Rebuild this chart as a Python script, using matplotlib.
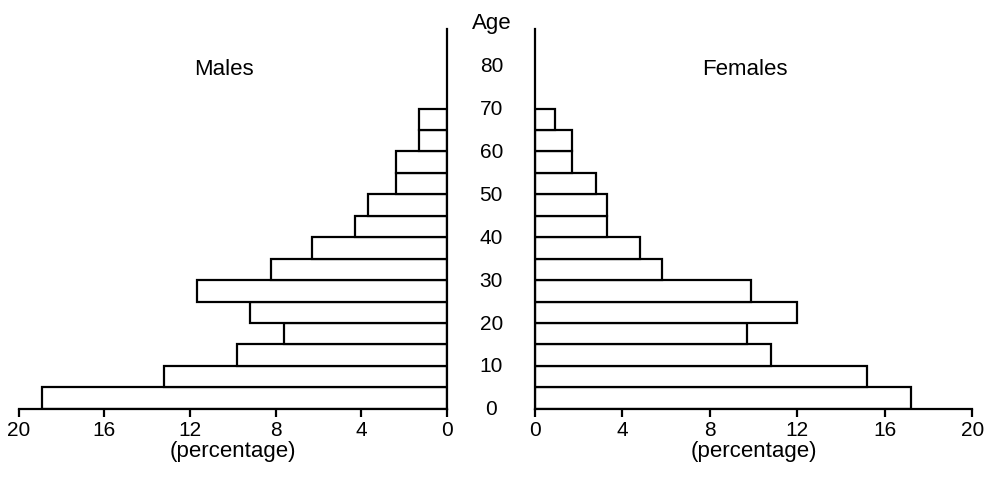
import matplotlib
matplotlib.use("Agg")
import matplotlib.pyplot as plt
import numpy as np

plt.rcParams.update({"font.family": ["Liberation Sans", "DejaVu Sans"], "font.size": 15})

age_lo = np.arange(0, 70, 5)
males = [18.9, 13.2, 9.8, 7.6, 9.2, 11.7, 8.2, 6.3, 4.3, 3.7, 2.4, 2.4, 1.3, 1.3]
females = [17.2, 15.2, 10.8, 9.7, 12.0, 9.9, 5.8, 4.8, 3.3, 3.3, 2.8, 1.7, 1.7, 0.9]
xticks = [0, 4, 8, 12, 16, 20]
age_ticks = [0, 10, 20, 30, 40, 50, 60, 70, 80]
YTOP = 88.6

fig = plt.figure(figsize=(9.89, 4.89), dpi=100)
axl = fig.add_axes([0.019, 0.162, 0.433, 0.777])
axr = fig.add_axes([0.541, 0.162, 0.442, 0.777])

for ax, vals in [(axl, males), (axr, females)]:
    ax.barh(age_lo, vals, height=5, align="edge", color="white", edgecolor="black", lw=1.6)
    ax.set_xlim(0, 20); ax.set_ylim(0, YTOP)
    ax.set_xticks(xticks)
    ax.set_yticks([])
    ax.tick_params(axis="x", direction="out", length=6, width=1.6, pad=2)
    for s in ["top", "left", "right"]:
        ax.spines[s].set_visible(False)
    ax.spines["bottom"].set_linewidth(1.6)
    ax.set_xlabel("(percentage)", labelpad=1, fontsize=16)

axl.invert_xaxis()
axl.spines["right"].set_visible(True); axl.spines["right"].set_linewidth(1.6)
axr.spines["left"].set_visible(True); axr.spines["left"].set_linewidth(1.6)

axl.text(0.48, 0.88, "Males", transform=axl.transAxes, ha="center", fontsize=16)
axr.text(0.48, 0.88, "Females", transform=axr.transAxes, ha="center", fontsize=16)

for a in age_ticks:
    axr.text(-2.0, a, str(a), ha="center", va="center", clip_on=False)
axr.text(-2.0, YTOP + 1.5, "Age", ha="center", va="center", clip_on=False, fontsize=16)

fig.savefig("out.png")
